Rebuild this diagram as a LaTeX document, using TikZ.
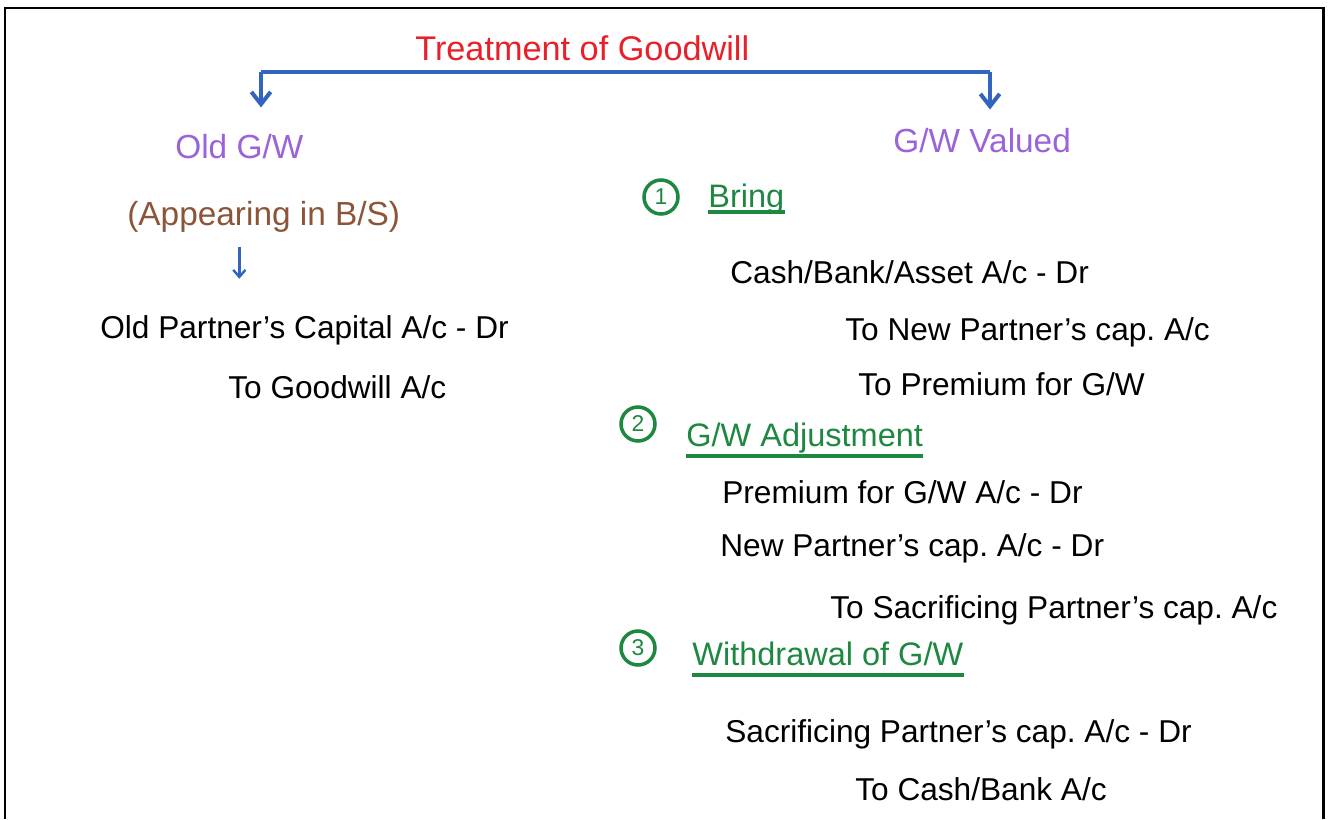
\documentclass[tikz,border=0pt]{standalone}
\usepackage{fontspec}
\setmainfont{Liberation Sans}
\usepackage{tikz}
\usetikzlibrary{arrows.meta}

\definecolor{gwred}{HTML}{E8202A}
\definecolor{gwblue}{HTML}{3465BE}
\definecolor{gwpurple}{HTML}{9B63D9}
\definecolor{gwbrown}{HTML}{8B5537}
\definecolor{gwgreen}{HTML}{1E8740}

\tikzset{
  txt/.style={anchor=base west, inner sep=0pt, font=\fontsize{18}{20}\selectfont},
  title/.style={txt, text=gwred, font=\fontsize{19.5}{22}\selectfont},
  side/.style={txt, text=gwpurple, font=\fontsize{19}{22}\selectfont},
  note/.style={txt, text=gwbrown, font=\fontsize{19}{22}\selectfont},
  stephead/.style={txt, text=gwgreen, font=\fontsize{18.5}{20}\selectfont},
  stepnum/.style={circle, draw=gwgreen, line width=2pt, text=gwgreen, inner sep=0pt, minimum size=34*0.02cm, font=\fontsize{13}{14}\selectfont},
  bracket/.style={draw=gwblue, line width=2.3pt},
  uline/.style={draw=gwgreen, line width=1.8pt}
}

\begin{document}
\frenchspacing
\begin{tikzpicture}[x=0.02cm, y=-0.02cm, >={Straight Barb[length=7pt,width=11pt]}]
\useasboundingbox (0,0) rectangle (1329,819);
\draw[line width=1.7pt] (5,819) -- (5,8) -- (1323,8) -- (1323,819);

\node[title] (treat) at (415,60) {Treatment of Goodwill};
\coordinate (brl) at (261,72);
\coordinate (brr) at (990,72);
\draw[bracket] (brl) -- (brr);

\node[side] (oldgw) at (175,158) {Old G/W};
\node[side] (gwval) at (893,152) {G/W Valued};
\draw[bracket,->] (brl) -- (brl |- gwval.north) [shorten >=20*0.02cm];
\draw[bracket,->] (brr) -- (brr |- gwval.north) [shorten >=18*0.02cm];

\node[note] (apb) at (127,225) {(Appearing in B/S)};
\node[txt] (oldcap) at (100,338) {Old Partner's Capital A/c - Dr};
\node[txt] (togw) at (228,398) {To Goodwill A/c};
\coordinate (arrtop) at (oldgw |- 0,247);
\draw[gwblue, line width=1.4pt, ->, >={Straight Barb[length=4pt,width=7pt]}] (arrtop) -- (arrtop |- oldcap.north) [shorten >=36*0.02cm];

\node[stepnum] (n1) at (661,197) {1};
\node[stephead] (bring) at (708,207) {Bring};
\draw[uline] ([yshift=-5*0.02cm]bring.base west) -- ([yshift=-5*0.02cm]bring.base east);
\node[txt] (cash) at (730,283) {Cash/Bank/Asset A/c - Dr};
\node[txt] (tonew) at (845,340) {To New Partner's cap. A/c};
\node[txt] (toprem) at (858,395) {To Premium for G/W};

\node[stepnum] (n2) at (638,424) {2};
\node[stephead] (adj) at (686,446) {G/W Adjustment};
\draw[uline] ([yshift=-10*0.02cm]adj.base west) -- ([yshift=-10*0.02cm]adj.base east);
\node[txt] (prem) at (722,503) {Premium for G/W A/c - Dr};
\node[txt] (newcap) at (720,556) {New Partner's cap. A/c - Dr};
\node[txt] (tosac) at (830,618) {To Sacrificing Partner's cap. A/c};

\node[stepnum] (n3) at (638,648) {3};
\node[stephead] (wdr) at (692,665) {Withdrawal of G/W};
\draw[uline] ([yshift=-10*0.02cm]wdr.base west) -- ([yshift=-10*0.02cm]wdr.base east);
\node[txt] (sac) at (725,742) {Sacrificing Partner's cap. A/c - Dr};
\node[txt] (tocash) at (855,800) {To Cash/Bank A/c};
\end{tikzpicture}
\end{document}
